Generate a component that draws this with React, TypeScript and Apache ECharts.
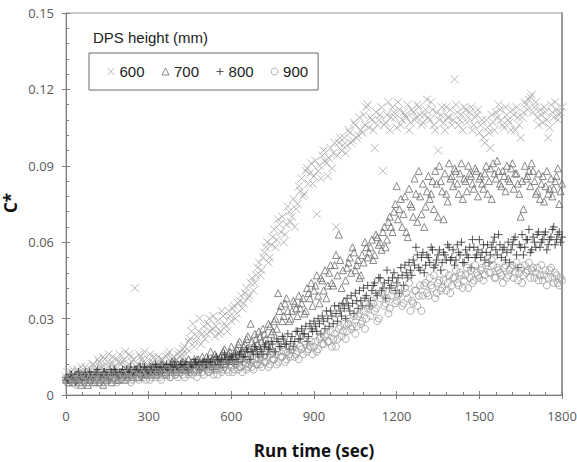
import React, { useEffect, useRef } from "react";
import * as echarts from "echarts";

// Sampling instants (s): readings on the whole 10 s marks ...
const runTimeSec = [
  0, 10, 20, 30, 40, 50, 60, 70, 80, 90,
  100, 110, 120, 130, 140, 150, 160, 170, 180, 190,
  200, 210, 220, 230, 240, 250, 260, 270, 280, 290,
  300, 310, 320, 330, 340, 350, 360, 370, 380, 390,
  400, 410, 420, 430, 440, 450, 460, 470, 480, 490,
  500, 510, 520, 530, 540, 550, 560, 570, 580, 590,
  600, 610, 620, 630, 640, 650, 660, 670, 680, 690,
  700, 710, 720, 730, 740, 750, 760, 770, 780, 790,
  800, 810, 820, 830, 840, 850, 860, 870, 880, 890,
  900, 910, 920, 930, 940, 950, 960, 970, 980, 990,
  1000, 1010, 1020, 1030, 1040, 1050, 1060, 1070, 1080, 1090,
  1100, 1110, 1120, 1130, 1140, 1150, 1160, 1170, 1180, 1190,
  1200, 1210, 1220, 1230, 1240, 1250, 1260, 1270, 1280, 1290,
  1300, 1310, 1320, 1330, 1340, 1350, 1360, 1370, 1380, 1390,
  1400, 1410, 1420, 1430, 1440, 1450, 1460, 1470, 1480, 1490,
  1500, 1510, 1520, 1530, 1540, 1550, 1560, 1570, 1580, 1590,
  1600, 1610, 1620, 1630, 1640, 1650, 1660, 1670, 1680, 1690,
  1700, 1710, 1720, 1730, 1740, 1750, 1760, 1770, 1780, 1790,
  1800,
];

// ... and on the 5 s marks in between
const runTimeSecMid = [
  5, 15, 25, 35, 45, 55, 65, 75, 85, 95,
  105, 115, 125, 135, 145, 155, 165, 175, 185, 195,
  205, 215, 225, 235, 245, 255, 265, 275, 285, 295,
  305, 315, 325, 335, 345, 355, 365, 375, 385, 395,
  405, 415, 425, 435, 445, 455, 465, 475, 485, 495,
  505, 515, 525, 535, 545, 555, 565, 575, 585, 595,
  605, 615, 625, 635, 645, 655, 665, 675, 685, 695,
  705, 715, 725, 735, 745, 755, 765, 775, 785, 795,
  805, 815, 825, 835, 845, 855, 865, 875, 885, 895,
  905, 915, 925, 935, 945, 955, 965, 975, 985, 995,
  1005, 1015, 1025, 1035, 1045, 1055, 1065, 1075, 1085, 1095,
  1105, 1115, 1125, 1135, 1145, 1155, 1165, 1175, 1185, 1195,
  1205, 1215, 1225, 1235, 1245, 1255, 1265, 1275, 1285, 1295,
  1305, 1315, 1325, 1335, 1345, 1355, 1365, 1375, 1385, 1395,
  1405, 1415, 1425, 1435, 1445, 1455, 1465, 1475, 1485, 1495,
  1505, 1515, 1525, 1535, 1545, 1555, 1565, 1575, 1585, 1595,
  1605, 1615, 1625, 1635, 1645, 1655, 1665, 1675, 1685, 1695,
  1705, 1715, 1725, 1735, 1745, 1755, 1765, 1775, 1785, 1795,
];

// Dimensionless concentration C* per DPS height
const dps600 = [
  0.007, 0.006, 0.009, 0.008, 0.010, 0.007, 0.009, 0.011, 0.008, 0.010,
  0.012, 0.009, 0.013, 0.011, 0.014, 0.010, 0.012, 0.015, 0.011, 0.013,
  0.012, 0.014, 0.011, 0.016, 0.013, 0.042, 0.012, 0.015, 0.013, 0.011,
  0.014, 0.012, 0.015, 0.013, 0.011, 0.014, 0.012, 0.016, 0.013, 0.015,
  0.014, 0.017, 0.016, 0.019, 0.018, 0.022, 0.028, 0.021, 0.025, 0.020,
  0.027, 0.024, 0.030, 0.026, 0.023, 0.029, 0.025, 0.031, 0.027, 0.033,
  0.029, 0.035, 0.032, 0.037, 0.034, 0.040, 0.038, 0.044, 0.041, 0.047,
  0.052, 0.049, 0.056, 0.060, 0.054, 0.062, 0.058, 0.069, 0.064, 0.060,
  0.067, 0.072, 0.070, 0.066, 0.075, 0.080, 0.078, 0.088, 0.083, 0.091,
  0.086, 0.071, 0.090, 0.094, 0.092, 0.086, 0.097, 0.095, 0.066, 0.099,
  0.096, 0.101, 0.098, 0.103, 0.100, 0.106, 0.102, 0.104, 0.110, 0.113,
  0.105, 0.108, 0.097, 0.106, 0.110, 0.088, 0.107, 0.115, 0.109, 0.111,
  0.105, 0.112, 0.108, 0.110, 0.114, 0.107, 0.111, 0.109, 0.113, 0.106,
  0.110, 0.116, 0.108, 0.112, 0.104, 0.096, 0.110, 0.107, 0.113, 0.109,
  0.106, 0.124, 0.111, 0.108, 0.104, 0.112, 0.109, 0.113, 0.106, 0.110,
  0.103, 0.108, 0.099, 0.105, 0.097, 0.107, 0.111, 0.114, 0.108, 0.105,
  0.110, 0.107, 0.112, 0.104, 0.109, 0.101, 0.111, 0.114, 0.116, 0.118,
  0.113, 0.109, 0.112, 0.107, 0.111, 0.101, 0.114, 0.109, 0.112, 0.110,
  0.113,
];
const dps600Mid = [
  0.009, 0.007, 0.010, 0.006, 0.009, 0.011, 0.008, 0.010, 0.007, 0.012,
  0.010, 0.014, 0.011, 0.015, 0.012, 0.016, 0.013, 0.011, 0.014, 0.016,
  0.013, 0.017, 0.012, 0.015, 0.014, 0.011, 0.016, 0.014, 0.017, 0.012,
  0.016, 0.013, 0.011, 0.015, 0.014, 0.012, 0.015, 0.017, 0.014, 0.013,
  0.016, 0.015, 0.018, 0.016, 0.021, 0.025, 0.019, 0.023, 0.030, 0.024,
  0.022, 0.028, 0.025, 0.031, 0.027, 0.024, 0.033, 0.028, 0.025, 0.031,
  0.034, 0.030, 0.036, 0.039, 0.036, 0.042, 0.039, 0.046, 0.044, 0.050,
  0.047, 0.054, 0.058, 0.052, 0.059, 0.065, 0.061, 0.067, 0.070, 0.063,
  0.074, 0.068, 0.077, 0.073, 0.082, 0.085, 0.079, 0.089, 0.087, 0.083,
  0.092, 0.088, 0.085, 0.096, 0.091, 0.093, 0.089, 0.099, 0.094, 0.101,
  0.098, 0.095, 0.104, 0.099, 0.107, 0.101, 0.109, 0.103, 0.106, 0.114,
  0.109, 0.104, 0.111, 0.108, 0.113, 0.106, 0.110, 0.104, 0.113, 0.109,
  0.115, 0.106, 0.111, 0.109, 0.104, 0.112, 0.108, 0.114, 0.110, 0.107,
  0.112, 0.109, 0.115, 0.106, 0.111, 0.108, 0.113, 0.104, 0.109, 0.112,
  0.108, 0.114, 0.106, 0.110, 0.113, 0.107, 0.111, 0.104, 0.109, 0.112,
  0.106, 0.101, 0.108, 0.103, 0.110, 0.104, 0.109, 0.112, 0.106, 0.113,
  0.108, 0.104, 0.110, 0.113, 0.106, 0.109, 0.115, 0.112, 0.117, 0.111,
  0.115, 0.106, 0.110, 0.113, 0.108, 0.105, 0.111, 0.115, 0.108, 0.111,
];

const dps700 = [
  0.006, 0.005, 0.007, 0.006, 0.008, 0.005, 0.007, 0.006, 0.004, 0.007,
  0.006, 0.008, 0.005, 0.007, 0.009, 0.006, 0.008, 0.007, 0.009, 0.006,
  0.008, 0.010, 0.007, 0.009, 0.008, 0.010, 0.007, 0.009, 0.011, 0.008,
  0.010, 0.009, 0.011, 0.008, 0.010, 0.012, 0.009, 0.011, 0.010, 0.012,
  0.009, 0.011, 0.013, 0.010, 0.012, 0.011, 0.013, 0.012, 0.014, 0.011,
  0.013, 0.015, 0.012, 0.014, 0.016, 0.013, 0.015, 0.017, 0.014, 0.016,
  0.019, 0.015, 0.018, 0.021, 0.017, 0.020, 0.023, 0.028, 0.019, 0.022,
  0.025, 0.021, 0.024, 0.020, 0.027, 0.025, 0.030, 0.040, 0.035, 0.031,
  0.038, 0.029, 0.033, 0.036, 0.031, 0.034, 0.038, 0.033, 0.040, 0.044,
  0.041, 0.047, 0.036, 0.045, 0.049, 0.043, 0.051, 0.043, 0.055, 0.063,
  0.042, 0.037, 0.050, 0.054, 0.058, 0.049, 0.053, 0.047, 0.052, 0.058,
  0.056, 0.061, 0.055, 0.062, 0.060, 0.064, 0.058, 0.068, 0.066, 0.072,
  0.082, 0.073, 0.066, 0.078, 0.062, 0.075, 0.070, 0.079, 0.088, 0.071,
  0.066, 0.080, 0.077, 0.084, 0.088, 0.070, 0.084, 0.069, 0.079, 0.091,
  0.086, 0.089, 0.083, 0.087, 0.077, 0.084, 0.090, 0.086, 0.081, 0.088,
  0.085, 0.083, 0.087, 0.079, 0.089, 0.091, 0.085, 0.088, 0.082, 0.086,
  0.090, 0.084, 0.091, 0.087, 0.083, 0.070, 0.073, 0.085, 0.088, 0.091,
  0.084, 0.080, 0.077, 0.086, 0.082, 0.079, 0.085, 0.081, 0.086, 0.075,
  0.083,
];
const dps700Mid = [
  0.007, 0.006, 0.005, 0.008, 0.006, 0.004, 0.007, 0.005, 0.006, 0.008,
  0.005, 0.007, 0.006, 0.004, 0.008, 0.007, 0.005, 0.009, 0.006, 0.008,
  0.009, 0.006, 0.008, 0.010, 0.007, 0.009, 0.011, 0.008, 0.010, 0.009,
  0.008, 0.011, 0.010, 0.009, 0.012, 0.010, 0.008, 0.011, 0.013, 0.010,
  0.012, 0.010, 0.013, 0.011, 0.014, 0.012, 0.010, 0.014, 0.013, 0.015,
  0.012, 0.014, 0.017, 0.013, 0.015, 0.012, 0.016, 0.018, 0.015, 0.017,
  0.014, 0.017, 0.020, 0.016, 0.019, 0.022, 0.018, 0.021, 0.024, 0.020,
  0.023, 0.026, 0.022, 0.028, 0.024, 0.029, 0.026, 0.033, 0.029, 0.036,
  0.033, 0.030, 0.037, 0.034, 0.039, 0.036, 0.032, 0.042, 0.038, 0.035,
  0.043, 0.039, 0.046, 0.041, 0.038, 0.048, 0.044, 0.051, 0.047, 0.053,
  0.049, 0.045, 0.052, 0.048, 0.056, 0.051, 0.046, 0.055, 0.060, 0.054,
  0.058, 0.053, 0.063, 0.059, 0.057, 0.066, 0.061, 0.070, 0.064, 0.075,
  0.069, 0.077, 0.071, 0.064, 0.081, 0.074, 0.085, 0.068, 0.078, 0.083,
  0.074, 0.086, 0.079, 0.073, 0.083, 0.090, 0.080, 0.087, 0.076, 0.085,
  0.082, 0.088, 0.079, 0.091, 0.085, 0.080, 0.087, 0.083, 0.089, 0.078,
  0.086, 0.081, 0.090, 0.084, 0.077, 0.087, 0.092, 0.083, 0.088, 0.080,
  0.085, 0.089, 0.081, 0.087, 0.079, 0.084, 0.090, 0.086, 0.082, 0.088,
  0.079, 0.087, 0.083, 0.076, 0.088, 0.081, 0.078, 0.084, 0.089, 0.080,
];

const dps800 = [
  0.007, 0.006, 0.008, 0.007, 0.006, 0.008, 0.007, 0.009, 0.006, 0.008,
  0.007, 0.009, 0.008, 0.007, 0.009, 0.008, 0.010, 0.008, 0.009, 0.007,
  0.009, 0.008, 0.010, 0.009, 0.008, 0.010, 0.009, 0.011, 0.009, 0.010,
  0.008, 0.010, 0.009, 0.011, 0.010, 0.009, 0.011, 0.010, 0.012, 0.010,
  0.011, 0.009, 0.012, 0.011, 0.010, 0.012, 0.011, 0.013, 0.012, 0.010,
  0.013, 0.012, 0.011, 0.013, 0.012, 0.014, 0.013, 0.011, 0.014, 0.013,
  0.015, 0.012, 0.014, 0.016, 0.013, 0.015, 0.017, 0.014, 0.016, 0.018,
  0.015, 0.017, 0.019, 0.016, 0.018, 0.020, 0.017, 0.021, 0.019, 0.022,
  0.020, 0.018, 0.023, 0.021, 0.025, 0.022, 0.024, 0.027, 0.023, 0.026,
  0.029, 0.025, 0.028, 0.031, 0.026, 0.030, 0.033, 0.028, 0.032, 0.035,
  0.031, 0.034, 0.038, 0.033, 0.036, 0.040, 0.034, 0.037, 0.042, 0.039,
  0.035, 0.041, 0.044, 0.039, 0.046, 0.042, 0.038, 0.045, 0.043, 0.048,
  0.044, 0.040, 0.047, 0.051, 0.046, 0.049, 0.053, 0.058, 0.050, 0.054,
  0.048, 0.055, 0.052, 0.057, 0.051, 0.055, 0.049, 0.056, 0.053, 0.058,
  0.054, 0.051, 0.059, 0.055, 0.052, 0.057, 0.054, 0.050, 0.058, 0.055,
  0.061, 0.056, 0.053, 0.059, 0.055, 0.060, 0.057, 0.063, 0.054, 0.058,
  0.056, 0.052, 0.059, 0.062, 0.050, 0.058, 0.055, 0.061, 0.065, 0.057,
  0.060, 0.063, 0.058, 0.061, 0.064, 0.059, 0.062, 0.066, 0.061, 0.064,
  0.062,
];
const dps800Mid = [
  0.006, 0.008, 0.007, 0.005, 0.009, 0.006, 0.008, 0.007, 0.009, 0.006,
  0.008, 0.010, 0.007, 0.009, 0.008, 0.006, 0.009, 0.010, 0.008, 0.009,
  0.010, 0.007, 0.009, 0.011, 0.008, 0.010, 0.009, 0.007, 0.011, 0.009,
  0.011, 0.009, 0.012, 0.008, 0.011, 0.010, 0.012, 0.009, 0.011, 0.013,
  0.010, 0.012, 0.011, 0.013, 0.009, 0.011, 0.014, 0.012, 0.010, 0.013,
  0.011, 0.014, 0.013, 0.010, 0.015, 0.012, 0.014, 0.016, 0.012, 0.015,
  0.014, 0.016, 0.013, 0.017, 0.015, 0.018, 0.014, 0.017, 0.019, 0.016,
  0.018, 0.016, 0.020, 0.018, 0.021, 0.017, 0.022, 0.019, 0.023, 0.020,
  0.024, 0.021, 0.019, 0.025, 0.022, 0.026, 0.024, 0.021, 0.028, 0.025,
  0.027, 0.030, 0.024, 0.029, 0.033, 0.027, 0.031, 0.035, 0.029, 0.033,
  0.036, 0.030, 0.035, 0.039, 0.032, 0.037, 0.041, 0.035, 0.038, 0.043,
  0.037, 0.043, 0.040, 0.046, 0.041, 0.044, 0.049, 0.042, 0.046, 0.041,
  0.046, 0.050, 0.043, 0.048, 0.052, 0.047, 0.051, 0.055, 0.049, 0.056,
  0.051, 0.054, 0.058, 0.050, 0.053, 0.057, 0.052, 0.055, 0.059, 0.053,
  0.057, 0.053, 0.056, 0.060, 0.052, 0.055, 0.058, 0.061, 0.054, 0.057,
  0.054, 0.059, 0.056, 0.052, 0.058, 0.062, 0.055, 0.059, 0.057, 0.053,
  0.060, 0.057, 0.061, 0.055, 0.059, 0.063, 0.058, 0.061, 0.056, 0.062,
  0.058, 0.064, 0.060, 0.063, 0.057, 0.061, 0.065, 0.059, 0.063, 0.060,
];

const dps900 = [
  0.006, 0.005, 0.007, 0.006, 0.005, 0.007, 0.006, 0.008, 0.005, 0.007,
  0.006, 0.008, 0.006, 0.007, 0.005, 0.008, 0.007, 0.006, 0.008, 0.007,
  0.006, 0.008, 0.007, 0.009, 0.006, 0.008, 0.007, 0.009, 0.008, 0.006,
  0.008, 0.007, 0.009, 0.008, 0.007, 0.009, 0.008, 0.010, 0.007, 0.009,
  0.008, 0.010, 0.009, 0.007, 0.010, 0.009, 0.008, 0.010, 0.009, 0.011,
  0.008, 0.010, 0.009, 0.011, 0.010, 0.008, 0.011, 0.010, 0.012, 0.009,
  0.011, 0.010, 0.012, 0.011, 0.009, 0.012, 0.011, 0.013, 0.010, 0.012,
  0.014, 0.011, 0.013, 0.015, 0.012, 0.014, 0.016, 0.013, 0.015, 0.017,
  0.014, 0.016, 0.018, 0.015, 0.017, 0.019, 0.016, 0.020, 0.018, 0.021,
  0.019, 0.017, 0.022, 0.020, 0.023, 0.021, 0.025, 0.022, 0.019, 0.026,
  0.023, 0.028, 0.025, 0.030, 0.027, 0.024, 0.031, 0.028, 0.033, 0.030,
  0.035, 0.037, 0.033, 0.029, 0.038, 0.041, 0.036, 0.032, 0.039, 0.043,
  0.037, 0.040, 0.035, 0.042, 0.038, 0.033, 0.036, 0.041, 0.039, 0.033,
  0.043, 0.040, 0.046, 0.042, 0.038, 0.044, 0.041, 0.045, 0.041, 0.047,
  0.043, 0.046, 0.044, 0.048, 0.042, 0.047, 0.042, 0.049, 0.045, 0.048,
  0.046, 0.050, 0.047, 0.052, 0.048, 0.051, 0.046, 0.049, 0.047, 0.050,
  0.046, 0.049, 0.051, 0.048, 0.045, 0.050, 0.047, 0.048, 0.052, 0.049,
  0.046, 0.050, 0.047, 0.045, 0.049, 0.046, 0.050, 0.044, 0.047, 0.043,
  0.045,
];
const dps900Mid = [
  0.005, 0.007, 0.006, 0.004, 0.006, 0.008, 0.005, 0.007, 0.006, 0.005,
  0.007, 0.006, 0.008, 0.005, 0.007, 0.006, 0.008, 0.006, 0.005, 0.007,
  0.008, 0.006, 0.007, 0.005, 0.008, 0.007, 0.006, 0.008, 0.007, 0.009,
  0.006, 0.008, 0.007, 0.009, 0.006, 0.008, 0.010, 0.007, 0.009, 0.008,
  0.007, 0.009, 0.008, 0.010, 0.008, 0.011, 0.009, 0.007, 0.010, 0.009,
  0.011, 0.009, 0.010, 0.008, 0.012, 0.010, 0.009, 0.011, 0.010, 0.012,
  0.009, 0.012, 0.010, 0.011, 0.013, 0.010, 0.012, 0.011, 0.014, 0.012,
  0.012, 0.015, 0.013, 0.011, 0.016, 0.014, 0.012, 0.017, 0.015, 0.013,
  0.017, 0.015, 0.019, 0.016, 0.014, 0.018, 0.021, 0.017, 0.019, 0.016,
  0.021, 0.018, 0.023, 0.020, 0.024, 0.021, 0.019, 0.024, 0.022, 0.027,
  0.025, 0.022, 0.028, 0.026, 0.031, 0.027, 0.032, 0.029, 0.026, 0.034,
  0.031, 0.036, 0.034, 0.030, 0.040, 0.035, 0.038, 0.034, 0.041, 0.036,
  0.039, 0.042, 0.036, 0.040, 0.044, 0.037, 0.041, 0.035, 0.043, 0.039,
  0.044, 0.039, 0.043, 0.047, 0.040, 0.045, 0.042, 0.048, 0.044, 0.040,
  0.046, 0.049, 0.043, 0.047, 0.045, 0.050, 0.046, 0.044, 0.051, 0.047,
  0.049, 0.045, 0.051, 0.048, 0.053, 0.046, 0.050, 0.048, 0.044, 0.051,
  0.047, 0.050, 0.046, 0.052, 0.048, 0.044, 0.051, 0.049, 0.046, 0.050,
  0.048, 0.045, 0.051, 0.047, 0.043, 0.049, 0.046, 0.048, 0.044, 0.046,
];

const heightLabels = ["600", "700", "800", "900"];
const xTickStep = 300;
const yTickStep = 0.03;

const CROSS = "path://M0,0L10,10M10,0L0,10";
const PLUS = "path://M5,0L5,10M0,5L10,5";

const toPoints = (main: number[], mid: number[]) => [
  ...main.map((v, i) => [runTimeSec[i], v]),
  ...mid.map((v, i) => [runTimeSecMid[i], v]),
];

const markerStyles = [
  { symbol: CROSS, size: 8, stroke: "#a6a6a6" },
  { symbol: "triangle", size: 7, stroke: "#6c6c6c" },
  { symbol: PLUS, size: 8, stroke: "#2f2f2f" },
  { symbol: "circle", size: 7, stroke: "#9a9a9a" },
];

export default function App() {
  const ref = useRef<HTMLDivElement>(null);

  useEffect(() => {
    if (!ref.current) return;
    const chart = echarts.init(ref.current, null, { renderer: "svg" });
    const tickFont = {
      fontFamily: "'Open Sans', sans-serif",
      fontSize: 13,
      color: "#5a5a5a",
    };
    const axisGray = "#7f7f7f";
    const valueSets = [
      [dps600, dps600Mid],
      [dps700, dps700Mid],
      [dps800, dps800Mid],
      [dps900, dps900Mid],
    ];

    const series = valueSets.map(([main, mid], i) => ({
      name: heightLabels[i],
      type: "scatter",
      xAxisIndex: 0,
      yAxisIndex: 0,
      symbol: markerStyles[i].symbol,
      symbolSize: markerStyles[i].size,
      itemStyle: {
        color: "rgba(0,0,0,0)",
        borderColor: markerStyles[i].stroke,
        borderWidth: 1,
      },
      emphasis: { disabled: true },
      data: toPoints(main, mid),
    }));

    const option = {
      animation: false,
      backgroundColor: "#ffffff",
      grid: {
        left: 66,
        right: 15,
        top: 13,
        bottom: 67,
        show: true,
        borderColor: "#9a9a9a",
        borderWidth: 1,
        containLabel: false,
        outerBoundsMode: "none",
      },
      legend: {
        left: 89,
        top: 53,
        orient: "horizontal",
        padding: [11, 10, 11, 18],
        itemGap: 17,
        itemWidth: 7,
        itemHeight: 7,
        borderColor: "#6a6a6a",
        borderWidth: 1,
        itemStyle: { borderWidth: 1 },
        textStyle: {
          fontFamily: "'Liberation Sans', Arial, sans-serif",
          fontSize: 15,
          color: "#222",
        },
        data: heightLabels,
      },
      graphic: [
        {
          type: "text",
          left: 93,
          top: 30,
          style: {
            text: "DPS height (mm)",
            font: "15px 'Liberation Sans', Arial, sans-serif",
            fill: "#222",
          },
        },
        {
          // vertical y-axis title, reading bottom to top
          type: "text",
          x: 10,
          y: 203,
          rotation: Math.PI / 2,
          style: {
            text: "C*",
            font: "bold 17px 'Open Sans', sans-serif",
            fill: "#111",
            align: "center",
            verticalAlign: "middle",
            lineHeight: 17,
          },
        },
      ],
      xAxis: [
        {
          type: "value",
          gridIndex: 0,
          position: "bottom",
          min: 0,
          max: 1800,
          interval: xTickStep,
          name: "Run time (sec)",
          nameLocation: "middle",
          nameGap: 47,
          nameTextStyle: {
            fontFamily: "'Open Sans', sans-serif",
            fontSize: 17,
            fontWeight: "bold",
            color: "#111",
          },
          axisLine: { show: true, lineStyle: { color: axisGray, width: 1 } },
          axisTick: { show: true, inside: false, length: 4, lineStyle: { color: axisGray } },
          axisLabel: {
            ...tickFont,
            margin: 14,
            formatter: (v: number) => String(v),
          },
          splitLine: { show: false },
        },
        {
          type: "value",
          gridIndex: 0,
          position: "bottom",
          min: 0,
          max: 1800,
          interval: xTickStep,
          axisLine: { show: false },
          axisTick: { show: true, inside: true, length: 4, lineStyle: { color: axisGray } },
          minorTick: { show: true, splitNumber: 5, length: 3, lineStyle: { color: axisGray } },
          axisLabel: { show: false },
          splitLine: { show: false },
        },
      ],
      yAxis: [
        {
          type: "value",
          gridIndex: 0,
          position: "left",
          min: 0,
          max: 0.15,
          interval: yTickStep,
          axisLine: { show: true, lineStyle: { color: axisGray, width: 1 } },
          axisTick: { show: true, inside: false, length: 4, lineStyle: { color: axisGray } },
          axisLabel: { ...tickFont, margin: 12 },
          splitLine: { show: false },
        },
        {
          type: "value",
          gridIndex: 0,
          position: "left",
          min: 0,
          max: 0.15,
          interval: yTickStep,
          axisLine: { show: false },
          axisTick: { show: true, inside: true, length: 4, lineStyle: { color: axisGray } },
          minorTick: { show: true, splitNumber: 5, length: 3, lineStyle: { color: axisGray } },
          axisLabel: { show: false },
          splitLine: { show: false },
        },
        {
          // heavier right-hand frame edge
          type: "value",
          gridIndex: 0,
          position: "right",
          min: 0,
          max: 0.15,
          interval: yTickStep,
          axisLine: { show: true, lineStyle: { color: "#9a9a9a", width: 2 } },
          axisTick: { show: false },
          axisLabel: { show: false },
          splitLine: { show: false },
        },
      ],
      series,
    };

    chart.setOption(option as any);
    return () => chart.dispose();
  }, []);

  return (
    <div
      ref={ref}
      style={{ position: "fixed", left: 0, top: 0, width: 577, height: 462 }}
    />
  );
}
